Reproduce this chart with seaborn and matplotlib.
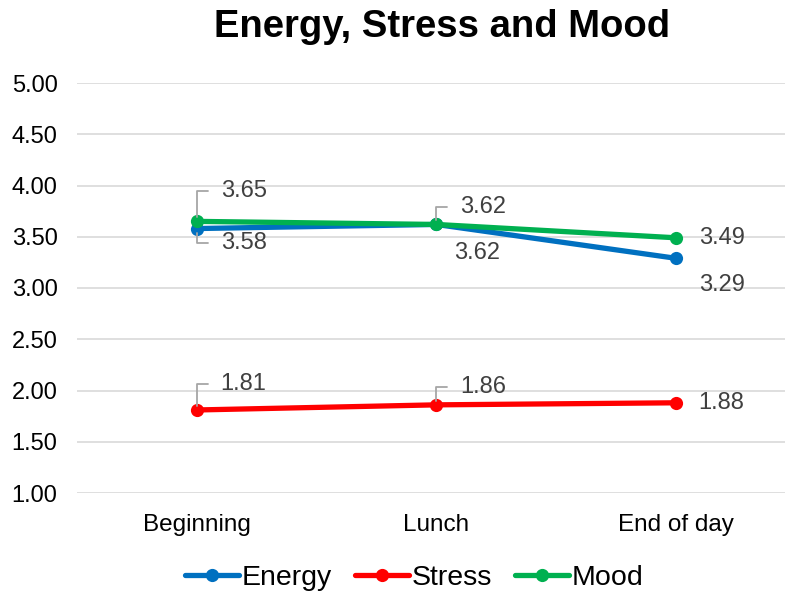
import numpy as np
import pandas as pd
import matplotlib
matplotlib.use("Agg")
import matplotlib.pyplot as plt
from matplotlib.lines import Line2D
import seaborn as sns

# Data
momentos = ["Beginning", "Lunch", "End of day"]
energy = [3.58, 3.62, 3.29]
stress = [1.81, 1.86, 1.88]
mood = [3.65, 3.62, 3.49]

series = ["Energy", "Stress", "Mood"]
cores = {"Energy": "#0070C0", "Stress": "#FF0000", "Mood": "#00B050"}

df = pd.DataFrame({
    "momento": momentos * 3,
    "valor": energy + stress + mood,
    "serie": ["Energy"] * 3 + ["Stress"] * 3 + ["Mood"] * 3,
})

# posição dos rótulos (pixels em relação ao ponto) e se tem linha guia
rotulos = {
    "Energy": [(24, -14, True), (18, -29, False), (23, -27, False)],
    "Stress": [(24, 26, True), (24, 18, True), (23, 0, False)],
    "Mood":   [(24, 30, True), (24, 17, True), (23, 0, False)],
}

sns.set_style("white")
plt.rcParams["font.family"] = ["Liberation Sans", "DejaVu Sans"]
plt.rcParams["text.color"] = "black"

fig = plt.figure(figsize=(7.85, 5.99), dpi=100)
ax = fig.add_axes([77 / 785, 106 / 599, 718.5 / 785, 410 / 599])

sns.lineplot(data=df, x="momento", y="valor", hue="serie", hue_order=series,
             palette=cores, marker="o", markersize=9.5, markeredgewidth=0,
             linewidth=3.8, sort=False, legend=False, ax=ax)

ax.set_xlim(-0.5, 2.5)
ax.set_ylim(1.0, 5.0)
ax.set_yticks(np.arange(1.0, 5.01, 0.5))
ax.set_yticklabels([f"{v:.2f}" for v in np.arange(1.0, 5.01, 0.5)])
ax.grid(axis="y", color="#d9d9d9", lw=1.2)
ax.set_axisbelow(True)
for s in ax.spines.values():
    s.set_visible(False)
ax.tick_params(axis="y", length=0, pad=14, labelsize=17, labelcolor="black")
ax.tick_params(axis="x", length=0, pad=15, labelsize=17.5, labelcolor="black")
ax.set_xlabel("")
ax.set_ylabel("")

dados = {"Energy": energy, "Stress": stress, "Mood": mood}
for nome in series:
    for i, v in enumerate(dados[nome]):
        dx, dy, guia = rotulos[nome][i]
        kw = {}
        if guia:
            kw["arrowprops"] = dict(arrowstyle="-", color="#a6a6a6", lw=1.3,
                                    connectionstyle="angle,angleA=0,angleB=90,rad=0",
                                    relpos=(0, 0.5), shrinkA=7, shrinkB=3)
        ax.annotate(f"{v:.2f}", xy=(i, v), xytext=(dx, dy), textcoords="offset pixels",
                    ha="left", va="center", fontsize=17, color="#404040", **kw)

fig.text(442 / 785, 1 - 27 / 599, "Energy, Stress and Mood", ha="center", va="center",
         fontsize=27.5, fontweight="bold", color="black")

handles = [Line2D([0], [0], color=cores[n], lw=3.8, marker="o", markersize=9.5,
                  markeredgewidth=0) for n in series]
fig.legend(handles, series, loc="center", bbox_to_anchor=(414 / 785, 1 - 578 / 599),
           ncol=3, frameon=False, fontsize=20.5, handlelength=1.9,
           handletextpad=0.1, columnspacing=0.8)

fig.savefig("out.png", dpi=100)
